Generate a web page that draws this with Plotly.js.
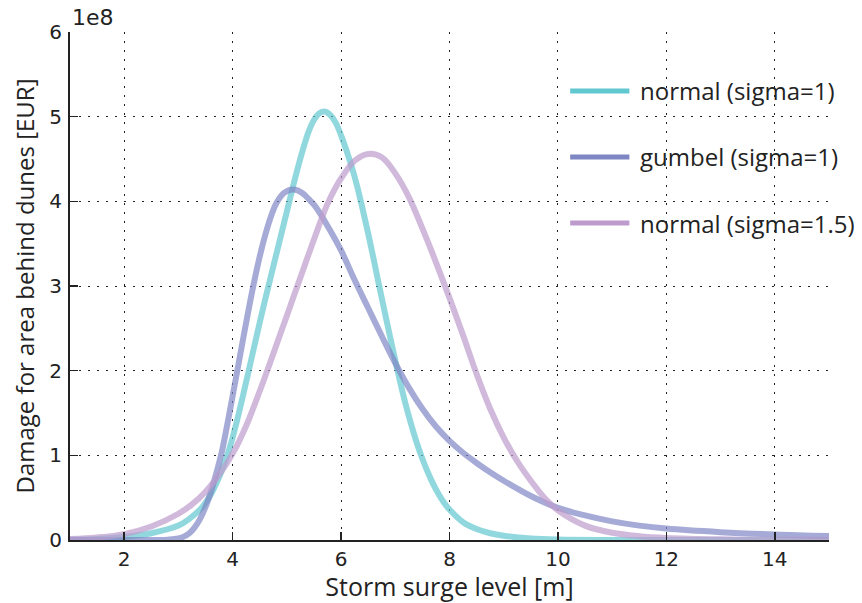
<!DOCTYPE html>
<html>
<head>
<meta charset="utf-8">
<script src="https://cdn.plot.ly/plotly-3.0.1.min.js"></script>
<style>
  html, body { margin: 0; padding: 0; background: #fff; }
  #chart { width: 862px; height: 603px; }
</style>
</head>
<body>
<div id="chart"></div>
<script>
// ---- data (y in EUR) ----
const seriesNames = ["normal (sigma=1)", "gumbel (sigma=1)", "normal (sigma=1.5)"];
const seriesColors = ["rgb(98,200,208)", "rgb(127,134,196)", "rgb(190,155,205)"];

const xNormal1 = [1.0, 1.5, 2.0, 2.5, 3.0, 3.2, 3.4, 3.5, 3.6, 3.7, 3.8, 3.9, 4.0, 4.1, 4.2, 4.3, 4.4, 4.5, 4.6, 4.7, 4.8, 4.9, 5.0, 5.1, 5.2, 5.3, 5.4, 5.5, 5.6, 5.7, 5.8, 5.9, 6.0, 6.1, 6.2, 6.3, 6.4, 6.5, 6.6, 6.7, 6.8, 6.9, 7.0, 7.1, 7.2, 7.3, 7.4, 7.5, 7.6, 7.7, 7.8, 7.9, 8.0, 8.25, 8.5, 8.75, 9.0, 9.5, 10.0, 11.0, 13.0, 15.0];
const yNormal1 = [0.003e8, 0.012e8, 0.035e8, 0.08e8, 0.17e8, 0.25e8, 0.36e8, 0.44e8, 0.54e8, 0.67e8, 0.82e8, 1.0e8, 1.21e8, 1.46e8, 1.73e8, 2.01e8, 2.29e8, 2.57e8, 2.84e8, 3.10e8, 3.36e8, 3.62e8, 3.88e8, 4.14e8, 4.39e8, 4.62e8, 4.82e8, 4.96e8, 5.04e8, 5.06e8, 5.02e8, 4.93e8, 4.78e8, 4.60e8, 4.40e8, 4.17e8, 3.90e8, 3.62e8, 3.32e8, 3.01e8, 2.71e8, 2.41e8, 2.12e8, 1.84e8, 1.58e8, 1.35e8, 1.14e8, 0.96e8, 0.80e8, 0.66e8, 0.54e8, 0.44e8, 0.36e8, 0.21e8, 0.13e8, 0.08e8, 0.05e8, 0.018e8, 0.006e8, 0.001e8, 0.0, 0.0];

const xGumbel1 = [1.0, 2.0, 2.6, 2.8, 2.9, 3.0, 3.1, 3.2, 3.3, 3.4, 3.5, 3.6, 3.7, 3.8, 3.9, 4.0, 4.1, 4.2, 4.3, 4.4, 4.5, 4.6, 4.7, 4.8, 4.9, 5.0, 5.1, 5.2, 5.3, 5.4, 5.5, 5.6, 5.75, 6.0, 6.25, 6.5, 6.75, 7.0, 7.25, 7.5, 7.75, 8.0, 8.25, 8.5, 8.75, 9.0, 9.5, 10.0, 10.5, 11.0, 11.5, 12.0, 13.0, 14.0, 15.0];
const yGumbel1 = [0.0, 0.0, 0.0, 0.003e8, 0.01e8, 0.02e8, 0.04e8, 0.08e8, 0.15e8, 0.25e8, 0.39e8, 0.57e8, 0.79e8, 1.04e8, 1.36e8, 1.70e8, 2.05e8, 2.40e8, 2.74e8, 3.06e8, 3.35e8, 3.60e8, 3.81e8, 3.97e8, 4.07e8, 4.12e8, 4.14e8, 4.13e8, 4.09e8, 4.03e8, 3.96e8, 3.87e8, 3.71e8, 3.42e8, 3.07e8, 2.74e8, 2.41e8, 2.09e8, 1.80e8, 1.55e8, 1.34e8, 1.17e8, 1.03e8, 0.91e8, 0.80e8, 0.70e8, 0.52e8, 0.38e8, 0.29e8, 0.22e8, 0.17e8, 0.135e8, 0.093e8, 0.065e8, 0.046e8];

const xNormal15 = [1.0, 1.5, 2.0, 2.5, 3.0, 3.25, 3.5, 3.75, 4.0, 4.25, 4.5, 4.75, 5.0, 5.25, 5.5, 5.75, 6.0, 6.25, 6.5, 6.75, 7.0, 7.25, 7.5, 7.75, 8.0, 8.25, 8.5, 8.75, 9.0, 9.25, 9.5, 9.75, 10.0, 10.5, 11.0, 11.5, 12.0, 13.0, 14.0, 15.0];
const yNormal15 = [0.012e8, 0.03e8, 0.07e8, 0.16e8, 0.31e8, 0.42e8, 0.57e8, 0.77e8, 1.02e8, 1.35e8, 1.76e8, 2.20e8, 2.65e8, 3.10e8, 3.55e8, 3.97e8, 4.27e8, 4.48e8, 4.56e8, 4.52e8, 4.33e8, 4.05e8, 3.68e8, 3.28e8, 2.86e8, 2.42e8, 1.96e8, 1.55e8, 1.21e8, 0.93e8, 0.70e8, 0.50e8, 0.35e8, 0.17e8, 0.085e8, 0.045e8, 0.025e8, 0.008e8, 0.002e8, 0.001e8];

const xTickVals = [2, 4, 6, 8, 10, 12, 14];
const yTickVals = [0, 1e8, 2e8, 3e8, 4e8, 5e8, 6e8];
const yTickText = ["0", "1", "2", "3", "4", "5", "6"];
const yOffsetLabel = "1e8";
const xTitle = "Storm surge level [m]";
const yTitle = "Damage for area behind dunes [EUR]";

// ---- chart ----
const xs = [xNormal1, xGumbel1, xNormal15];
const ys = [yNormal1, yGumbel1, yNormal15];
const curveAlpha = 0.7;

function withAlpha(rgb, a) {
  return rgb.replace("rgb(", "rgba(").replace(")", "," + a + ")");
}

const traces = seriesNames.map((name, i) => ({
  type: "scatter",
  mode: "lines",
  name: name,
  x: xs[i],
  y: ys[i],
  line: { color: withAlpha(seriesColors[i], curveAlpha), width: 6, shape: "spline", smoothing: 1 },
  hoverinfo: "x+y+name",
  showlegend: false
}));

// custom legend (long line swatches as in the reference)
const legendRowsY = [0.884, 0.754, 0.624];
const shapes = [];
const annotations = [];
seriesNames.forEach((name, i) => {
  shapes.push({
    type: "line", xref: "paper", yref: "paper",
    x0: 0.659, x1: 0.737, y0: legendRowsY[i], y1: legendRowsY[i],
    line: { color: seriesColors[i], width: 5 }
  });
  annotations.push({
    xref: "paper", yref: "paper", x: 0.748, y: legendRowsY[i],
    xanchor: "left", yanchor: "middle", showarrow: false,
    text: name,
    font: { family: "Open Sans, sans-serif", size: 24, color: "#222" }
  });
});
annotations.push({
  xref: "paper", yref: "paper", x: 0, y: 1, xanchor: "left", yanchor: "bottom",
  yshift: 0, showarrow: false, text: yOffsetLabel,
  font: { family: "DejaVu Sans, sans-serif", size: 22, color: "#222" }
});

const axisCommon = {
  showline: true, linecolor: "#222", linewidth: 2,
  ticks: "inside", ticklen: 8, tickwidth: 1.5, tickcolor: "#222",
  showgrid: true, gridcolor: "#222", gridwidth: 1, griddash: "2px,7px",
  zeroline: false, mirror: false,
  tickfont: { family: "DejaVu Sans, sans-serif", size: 20, color: "#222" }
};

const layout = {
  width: 862, height: 603,
  margin: { l: 70, r: 33, t: 32, b: 63 },
  paper_bgcolor: "#fff", plot_bgcolor: "#fff",
  showlegend: false,
  xaxis: Object.assign({}, axisCommon, {
    range: [1, 15], tickmode: "array", tickvals: xTickVals,
    title: { text: xTitle, standoff: 6, font: { family: "Open Sans, sans-serif", size: 25, color: "#222" } }
  }),
  yaxis: Object.assign({}, axisCommon, {
    range: [0, 6e8], tickmode: "array", tickvals: yTickVals, ticktext: yTickText,
    ticklabelstandoff: 2,
    title: { text: yTitle, standoff: 8, font: { family: "Open Sans, sans-serif", size: 24, color: "#222" } }
  }),
  shapes: shapes,
  annotations: annotations
};

Plotly.newPlot("chart", traces, layout, { displayModeBar: false, staticPlot: true });
</script>
</body>
</html>
